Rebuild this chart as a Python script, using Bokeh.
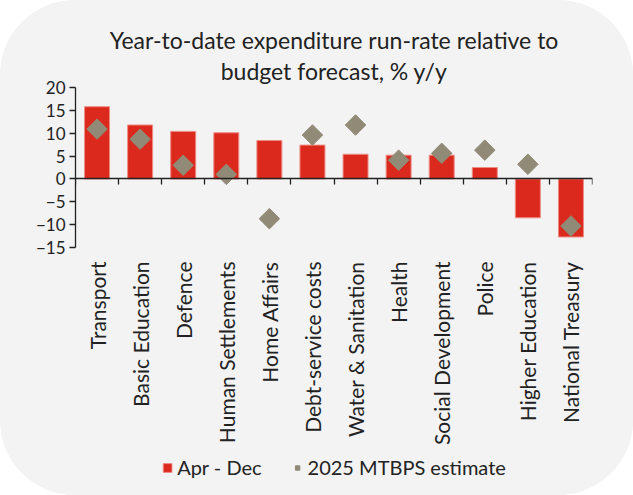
from bokeh.plotting import figure
from bokeh.layouts import column
from bokeh.models import (Range1d, LinearAxis, FixedTicker, Title, Legend, LegendItem)
from bokeh.embed import file_html
from bokeh.resources import INLINE
import math

categories = ["Transport", "Basic Education", "Defence", "Human Settlements",
              "Home Affairs", "Debt-service costs", "Water & Sanitation", "Health",
              "Social Development", "Police", "Higher Education", "National Treasury"]
apr_dec = [15.8, 11.8, 10.4, 10.1, 8.4, 7.4, 5.4, 5.2, 5.2, 2.5, -8.5, -12.7]
mtbps = [10.9, 8.7, 3.0, 1.0, -8.7, 9.6, 11.8, 4.1, 5.6, 6.3, 3.2, -10.3]
y_ticks = [-15, -10, -5, 0, 5, 10, 15, 20]
series_names = ["Apr - Dec", "2025 MTBPS estimate"]

FONT = "Lato"
BG = "#f3f3f3"
RED = "#dc291e"
GREY = "#918a76"
TXT = "#222222"

xs = list(range(1, len(categories) + 1))

p = figure(width=633, height=455, output_backend="svg", toolbar_location=None,
           x_range=Range1d(0.5, len(categories) + 0.5), y_range=Range1d(-15, 20),
           x_axis_location=None, y_axis_location=None,
           min_border_left=75, min_border_right=41, min_border_top=87, min_border_bottom=208,
           background_fill_color=BG, border_fill_color=BG, outline_line_color=None)
p.xgrid.visible = False
p.ygrid.visible = False

bar_style = dict(fill_color=RED, line_color="#ee8c84", line_width=1)
pt_style = dict(marker="square", angle=math.pi / 4, fill_color=GREY, line_color=GREY)

p.vbar(x=xs, top=apr_dec, bottom=0, width=0.58, **bar_style)
p.scatter(x=xs, y=mtbps, size=14.5, **pt_style)

# y axis
yax = LinearAxis(ticker=FixedTicker(ticks=y_ticks), axis_line_color=TXT,
                 axis_line_width=1.3, major_tick_line_color=TXT, major_tick_line_width=1.3,
                 major_tick_in=0, major_tick_out=6, minor_tick_line_color=None,
                 major_label_text_font=FONT, major_label_text_font_size="17px",
                 major_label_text_color=TXT, major_label_standoff=4)
p.add_layout(yax, "left")

# zero line with (minor, unlabelled) ticks at category boundaries
zax = LinearAxis(ticker=FixedTicker(ticks=[], minor_ticks=[i + 0.5 for i in range(len(categories) + 1)]),
                 fixed_location=0, axis_line_color=TXT, axis_line_width=1.3,
                 major_tick_line_color=None, minor_tick_line_color=TXT,
                 minor_tick_line_width=1.3, minor_tick_in=0, minor_tick_out=6)
p.add_layout(zax, "below")

# category label axis
lax = LinearAxis(ticker=FixedTicker(ticks=xs),
                 major_label_overrides={x: c for x, c in zip(xs, categories)},
                 axis_line_color=None, major_tick_line_color=None, minor_tick_line_color=None,
                 major_label_orientation=math.pi / 2, major_label_text_font=FONT,
                 major_label_text_font_size="21px", major_label_text_color=TXT,
                 major_label_standoff=8)
p.add_layout(lax, "below")

p.add_layout(Title(text="budget forecast, % y/y", align="center", text_font=FONT,
                   text_font_size="23px", text_font_style="normal", text_color=TXT,
                   standoff=6), "above")
p.add_layout(Title(text="Year-to-date expenditure run-rate relative to", align="center",
                   text_font=FONT, text_font_size="23px", text_font_style="normal",
                   text_color=TXT, standoff=-5), "above")

# legend strip
lf = figure(width=633, height=40, output_backend="svg", toolbar_location=None,
            x_range=Range1d(0, 1), y_range=Range1d(0, 1),
            x_axis_location=None, y_axis_location=None, min_border=0,
            background_fill_color=BG, border_fill_color=BG, outline_line_color=None)
lf.xgrid.visible = False
lf.ygrid.visible = False
lbar = lf.vbar(x=xs, top=apr_dec, width=0.1, visible=False, **bar_style)
lpt = lf.scatter(x=xs, y=mtbps, size=9, visible=False, **pt_style)
legend = Legend(items=[LegendItem(label=series_names[0], renderers=[lbar]),
                       LegendItem(label=series_names[1], renderers=[lpt])],
                orientation="horizontal", location="top_center", border_line_color=None,
                background_fill_alpha=0, label_text_font=FONT, label_text_font_size="20px",
                label_text_color=TXT, glyph_width=11, glyph_height=11, spacing=30,
                label_standoff=5, padding=2, margin=0,
                inactive_fill_alpha=0, inactive_fill_color=BG, click_policy="none")
lf.add_layout(legend, "center")

layout = column(p, lf, spacing=0,
                styles={"border-radius": "75px", "overflow": "hidden",
                        "background-color": BG})

open("out.html", "w").write(file_html(layout, INLINE))
